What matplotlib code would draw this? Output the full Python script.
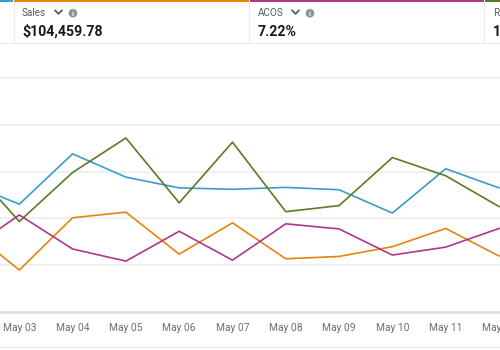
import matplotlib
matplotlib.use("Agg")
import matplotlib.pyplot as plt
from matplotlib.lines import Line2D
from matplotlib.patches import Circle, Rectangle

plt.rcParams['font.family'] = ['Roboto', 'DejaVu Sans']

# ---- data (chart units: baseline = 0, one gridline step = 1) ----
dates = ["May 02", "May 03", "May 04", "May 05", "May 06", "May 07",
         "May 08", "May 09", "May 10", "May 11", "May 12"]
blue_series = [2.77, 2.30, 3.38, 2.88, 2.65, 2.62, 2.66, 2.61, 2.11, 3.06, 2.65]
green_series = [3.21, 1.93, 2.98, 3.72, 2.33, 3.63, 2.14, 2.27, 3.30, 2.91, 2.25]
sales_series = [1.81, 0.89, 2.01, 2.13, 1.23, 1.90, 1.13, 1.18, 1.39, 1.78, 1.19]
acos_series = [1.27, 2.07, 1.34, 1.08, 1.72, 1.10, 1.88, 1.77, 1.21, 1.38, 1.78]

metric_labels = ["Sales", "ACOS", "R"]
metric_values = ["$104,459.78", "7.22%", "1"]

BLUE = "#3a9bcd"
ORANGE = "#e8830f"
PURPLE = "#ae378a"
GREEN = "#5b7a27"
GRID = "#eaeded"
AXIS = "#d5dbdb"
TICK = "#687078"

W, H = 500, 350
fig = plt.figure(figsize=(5, 3.5), dpi=100)
fig.patch.set_facecolor("white")

def fy(py):
    return (H - py) / H

# ---- main chart ----
ax = fig.add_axes([0, fy(311.5), 1, fy(43) - fy(311.5)])
x = list(range(len(dates)))
ax.set_xlim(0.638, 10.019)
ax.set_ylim(0, 5.756)
for s in ax.spines.values():
    s.set_visible(False)
for g in range(1, 6):
    ax.axhline(g, color=GRID, lw=1.1, zorder=1)
ax.axhline(0, color=AXIS, lw=1.8, zorder=1, clip_on=False)

lw = 1.2
ax.plot(x, blue_series, color=BLUE, lw=lw, zorder=3)
ax.plot(x, green_series, color=GREEN, lw=lw, zorder=3)
ax.plot(x, sales_series, color=ORANGE, lw=lw, zorder=3)
ax.plot(x, acos_series, color=PURPLE, lw=lw, zorder=3)

ax.set_xticks(x[1:])
ax.set_xticklabels(dates[1:])
ax.tick_params(axis='x', length=0, pad=8.3, labelsize=7.4, labelcolor=TICK)
ax.set_yticks([])

# bottom separator line
fig.add_artist(Line2D([0, 1], [fy(346.7), fy(346.7)], color=GRID, lw=1.0))

# ---- header ----
hx = fig.add_axes([0, fy(44), 1, fy(0) - fy(44)])
hx.set_xlim(0, W)
hx.set_ylim(44, 0)
hx.axis("off")

# colored top bars
hx.add_patch(Rectangle((0, 0), 13, 2.2, color=BLUE, lw=0))
hx.add_patch(Rectangle((14, 0), 234.5, 2.2, color=ORANGE, lw=0))
hx.add_patch(Rectangle((250, 0), 233.5, 2.2, color=PURPLE, lw=0))
hx.add_patch(Rectangle((485, 0), 15, 2.2, color=GREEN, lw=0))
# separators
for sx in (13.5, 249.3, 484.3):
    hx.plot([sx, sx], [2.2, 43], color=GRID, lw=1.0)
hx.plot([0, W], [42.8, 42.8], color=GRID, lw=1.0)

def metric(x0, label, value, chev_x=None, info_x=None):
    hx.text(x0, 16, label, fontsize=7.2, color="#545b64", va="baseline", ha="left")
    hx.text(x0, 35.7, value, fontsize=10.2, color="#16191f", va="baseline",
            ha="left", fontweight="bold")
    if chev_x is not None:
        hx.plot([chev_x, chev_x + 3.5, chev_x + 7], [10.3, 13.8, 10.3],
                color="#545b64", lw=1.3, solid_capstyle="round")
    if info_x is not None:
        hx.add_patch(Circle((info_x, 13.2), 4.3, color="#879596", lw=0))
        hx.text(info_x, 13.5, "i", fontsize=5.2, color="white", ha="center",
                va="center", fontweight="bold")

metric(22, metric_labels[0], metric_values[0], 55, 73)
metric(258, metric_labels[1], metric_values[1], 292, 310)
metric(493, metric_labels[2], metric_values[2])

fig.savefig("out.png", dpi=100, facecolor="white")
